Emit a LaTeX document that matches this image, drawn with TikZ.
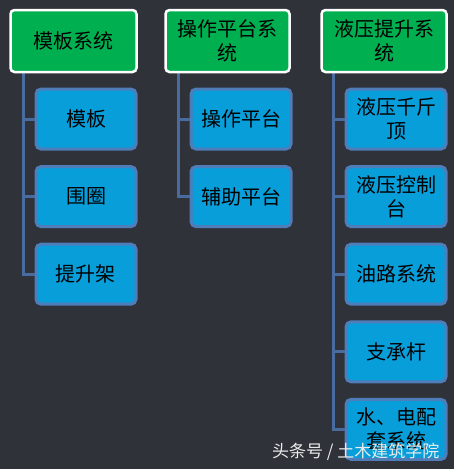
\documentclass[tikz,border=0pt]{standalone}
\usepackage{fontspec}
\setmainfont{Noto Sans CJK SC}
\usetikzlibrary{calc}
\definecolor{bgcol}{RGB}{47,50,56}
\definecolor{headgreen}{RGB}{0,176,80}
\definecolor{itemblue}{RGB}{8,158,218}
\definecolor{edgeblue}{RGB}{79,125,185}
\definecolor{trunkblue}{RGB}{72,108,160}
\tikzset{
  headbox/.style={
    rectangle, rounded corners=4pt,
    draw=white, line width=2.5pt,
    fill=headgreen,
    minimum width=#1, minimum height=62pt,
    inner sep=2pt, align=center,
    font=\fontsize{20}{24}\selectfont
  },
  itembox/.style={
    rectangle, rounded corners=5pt,
    draw=edgeblue, line width=3pt,
    fill=itemblue,
    minimum width=100pt, minimum height=60pt,
    inner sep=2pt, align=center,
    font=\fontsize{20}{24}\selectfont
  },
  trunk/.style={draw=trunkblue, line width=3pt}
}
\def\rowsep{77.6}
\begin{document}
\begin{tikzpicture}[x=1pt, y=-1pt]
    \fill[bgcol] (0,0) rectangle (454,469);
    \useasboundingbox (0,0) rectangle (454,469);

    %% Trunk coordinates
    \coordinate (tr1) at (23,72);
    \coordinate (tr2) at (178,72);
    \coordinate (tr3) at (333,72);

    %% Template system
    \foreach \name/\txt [count=\i from 0] in {mb1/模板, mb2/围圈, mb3/提升架}{
      \node[itembox] (\name) at (86, 119+\i*\rowsep) {\txt};
      \draw[trunk] (tr1) |- (\name.west);
    }
    \node[headbox=126pt] (mb) at (73.5,41) {模板系统};

    %% Platform system
    \foreach \name/\txt [count=\i from 0] in {pt1/操作平台, pt2/辅助平台}{
      \node[itembox] (\name) at (241, 119+\i*\rowsep) {\txt};
      \draw[trunk] (tr2) |- (\name.west);
    }
    \node[headbox=124pt] (pt) at (227.5,41) {操作平台系\\统};

    %% Hydraulic lifting system
    \foreach \name/\txt [count=\i from 0] in {yy1/液压千斤\\顶, yy2/液压控制\\台, yy3/油路系统, yy4/支承杆, yy5/水、电配\\套系统}{
      \node[itembox] (\name) at (396, 119+\i*\rowsep) {\txt};
      \draw[trunk] (tr3) |- (\name.west);
    }
    \node[headbox=125pt] (yy) at (384,41) {液压提升系\\统};

    %% Watermark
    \node[text=white!85!gray, font=\fontsize{17}{20}\selectfont, anchor=east] (wm) at (443,452) {头条号 / 土木建筑学院};
\end{tikzpicture}
\end{document}
